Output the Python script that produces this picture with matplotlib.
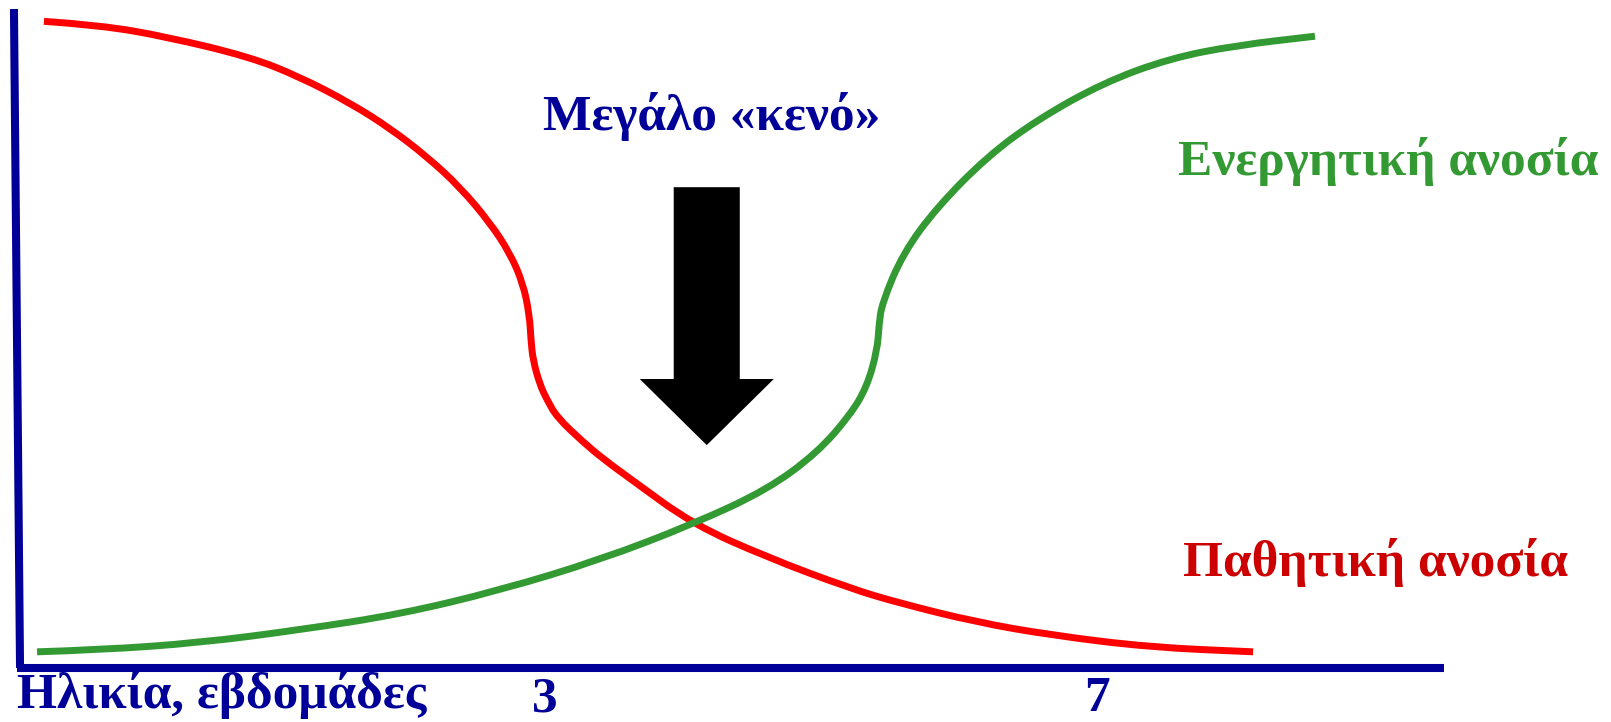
import matplotlib
matplotlib.use("Agg")
import matplotlib.pyplot as plt
from matplotlib.path import Path
from matplotlib.patches import PathPatch

# ---- data (age in weeks, relative immunity level 0..100) ----
passive_weeks = [-0.622, -0.216, 0.268, 0.869, 1.231, 1.593, 1.882, 2.150, 2.389, 2.606,
                 2.750, 2.844, 2.891, 2.902, 2.917, 2.967, 3.018, 3.090, 3.278, 3.423,
                 3.640, 4.074, 4.610, 5.210, 5.572, 6.122, 6.658, 7.381, 8.127]
passive_level = [99.8, 99.2, 97.4, 94.3, 91.2, 87.2, 83.3, 78.9, 74.2, 68.7,
                 64.0, 59.4, 54.5, 50.6, 47.5, 43.7, 41.4, 38.7, 34.9, 32.3,
                 28.9, 22.2, 17.1, 12.3, 10.0, 7.1, 5.1, 3.2, 2.5]

active_weeks = [-0.672, -0.216, 0.507, 1.231, 1.954, 2.678, 3.402, 4.074, 4.610, 4.972,
                5.210, 5.333, 5.408, 5.420, 5.442, 5.594, 5.840, 6.202, 6.564, 7.042,
                7.527, 8.011, 8.575]
active_level = [2.5, 2.8, 3.9, 5.9, 8.3, 12.0, 16.7, 22.2, 27.5, 33.2,
                39.0, 43.4, 49.1, 52.9, 56.3, 64.0, 71.1, 78.9, 84.6, 90.3,
                94.1, 96.1, 97.5]

tick_weeks = [3, 7]
tick_labels = ["3", "7"]

title_text = "Μεγάλο «κενό»"
active_label = "Ενεργητική ανοσία"
passive_label = "Παθητική ανοσία"
xlabel_text = "Ηλικία, εβδομάδες"

# ---- style ----
BLUE = "#000099"
RED = "#FF0000"
RED_TXT = "#CC0000"
GREEN = "#339933"
W, H = 1611, 722
FONT = ["Liberation Serif", "DejaVu Serif"]

fig = plt.figure(figsize=(W / 100, H / 100), dpi=100)
ax = fig.add_axes([0, 0, 1, 1])
ax.set_xlim(-0.94, 10.717)
ax.set_ylim(-8.33, 103.09)
ax.axis("off")

# axes lines (hand-drawn style, slightly slanted vertical)
ax.plot([-0.839, -0.795], [101.7, 0], color=BLUE, lw=5.8, solid_capstyle="butt")
ax.plot([-0.82, 9.509], [0, 0], color=BLUE, lw=5.8, solid_capstyle="butt")


def smooth_curve(xs, ys, color):
    """Draw the read points as a smooth quadratic-Bezier path (library Path)."""
    pts = list(zip(xs, ys))
    verts = [pts[0]]
    codes = [Path.MOVETO]
    for i in range(1, len(pts) - 1):
        mid = ((pts[i][0] + pts[i + 1][0]) / 2, (pts[i][1] + pts[i + 1][1]) / 2)
        verts += [pts[i], mid]
        codes += [Path.CURVE3, Path.CURVE3]
    verts.append(pts[-1])
    codes.append(Path.LINETO)
    patch = PathPatch(Path(verts, codes), fill=False, edgecolor=color, lw=5.0,
                      capstyle="butt", joinstyle="round", transform=ax.transData)
    ax.add_patch(patch)


smooth_curve(passive_weeks, passive_level, RED)
smooth_curve(active_weeks, active_level, GREEN)

# big black arrow pointing at the gap
ax.arrow(4.174, 74.2, 0, -39.8, width=0.478, head_width=0.97, head_length=10.2,
         length_includes_head=True, color="black", lw=0)


def fx(px):
    return px / W


def fy(py):
    return 1 - py / H


tf = fig.transFigure
fs = 37
fig.text(fx(712), fy(130), title_text, transform=tf, ha="center", va="baseline",
         fontsize=fs, fontweight="bold", color=BLUE, family=FONT)
fig.text(fx(1178), fy(175), active_label, transform=tf, ha="left", va="baseline",
         fontsize=fs, fontweight="bold", color=GREEN, family=FONT)
fig.text(fx(1183), fy(576), passive_label, transform=tf, ha="left", va="baseline",
         fontsize=fs, fontweight="bold", color=RED_TXT, family=FONT)
fig.text(fx(17), fy(708), xlabel_text, transform=tf, ha="left", va="baseline",
         fontsize=fs, fontweight="bold", color=BLUE, family=FONT)
for w, lab in zip(tick_weeks, tick_labels):
    ax.annotate(lab, xy=(w, 0), xycoords="data", xytext=(0, -43),
                textcoords="offset pixels", ha="center", va="baseline",
                fontsize=fs, fontweight="bold", color=BLUE, family=FONT)

fig.savefig("out.png", dpi=100)
